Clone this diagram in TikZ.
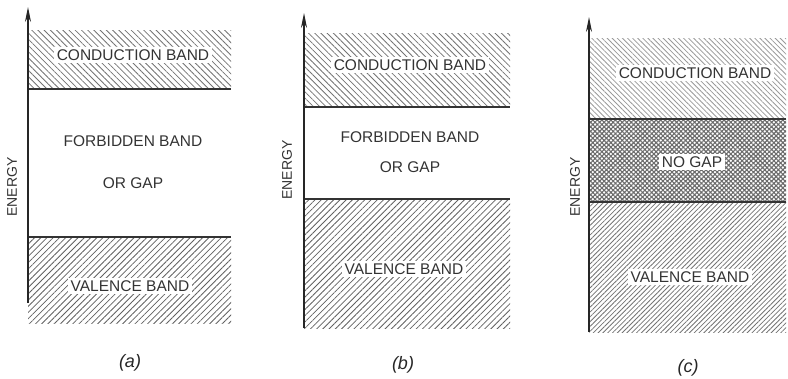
\documentclass[tikz,border=0pt]{standalone}
\usepackage{fontspec}
\setmainfont{Liberation Sans}
\usetikzlibrary{arrows.meta,patterns.meta}
\tikzset{
  band/.style={inner sep=0pt,outer sep=0pt,anchor=north west},
  upper/.style={band,pattern={Lines[angle=-45,distance=4.4pt,line width=0.8pt]},pattern color=black!55},
  lower/.style={band,pattern={Lines[angle=45,distance=4.4pt,line width=0.8pt]},pattern color=black!62},
  paleupper/.style={band,pattern={Lines[angle=-45,distance=3.6pt,line width=0.8pt]},pattern color=black!40},
  denselower/.style={band,pattern={Lines[angle=45,distance=3.4pt,line width=0.8pt]},pattern color=black!55},
  overlap/.style={band,pattern={Hatch[angle=45,distance=3.2pt,line width=1.1pt]},pattern color=black!58},
  edge/.style={line width=1.4pt,black!80},
  axis/.style={line width=1.1pt,black!85,-{Stealth[length=15pt,width=6pt]}},
  tag/.style={fill=white,inner sep=2.5pt,font=\fontsize{15.5}{15.5}\selectfont,text=black!80},
  energy/.style={rotate=90,font=\fontsize{14}{14}\selectfont,text=black!80},
  caption/.style={font=\itshape\fontsize{18}{18}\selectfont,text=black!85}
}
\begin{document}
\begin{tikzpicture}[x=1pt,y=-1pt]
\useasboundingbox (0,0) rectangle (788,378);

% (a) insulator
\node[upper,minimum width=203pt,minimum height=59pt] (cbA) at (28,30) {};
\node[lower,minimum width=203pt,minimum height=86pt] (vbA) at (28,237) {};
\draw[edge] (cbA.south west) -- (cbA.south east);
\draw[edge] (vbA.north west) -- (vbA.north east);
\coordinate (lowA) at (28,303);
\coordinate (topA) at (28,7);
\draw[axis] (lowA) -- (topA);
\node[tag] (cbtA) at (133,55) {CONDUCTION BAND};
\node[tag] (gapA1) at (133,141) {FORBIDDEN BAND};
\node[tag] (gapA2) at (133,183) {OR GAP};
\node[tag] (vbtA) at (130,286) {VALENCE BAND};
\node[energy] (enA) at (12,187) {ENERGY};
\node[caption] (capA) at (130,363) {(a)};

% (b) semiconductor
\node[upper,minimum width=206pt,minimum height=74pt] (cbB) at (304,33) {};
\node[lower,minimum width=206pt,minimum height=129pt] (vbB) at (304,199) {};
\draw[edge] (cbB.south west) -- (cbB.south east);
\draw[edge] (vbB.north west) -- (vbB.north east);
\coordinate (lowB) at (304,328);
\coordinate (topB) at (304,13);
\draw[axis] (lowB) -- (topB);
\node[tag] (cbtB) at (410,65) {CONDUCTION BAND};
\node[tag] (gapB1) at (410,137) {FORBIDDEN BAND};
\node[tag] (gapB2) at (410,167) {OR GAP};
\node[tag] (vbtB) at (404,269) {VALENCE BAND};
\node[energy] (enB) at (287,170) {ENERGY};
\node[caption] (capB) at (403,365) {(b)};

% (c) conductor
\node[paleupper,minimum width=197pt,minimum height=81pt] (cbC) at (589,38) {};
\node[overlap,minimum width=197pt,minimum height=83pt] (ngC) at (589,119) {};
\node[denselower,minimum width=197pt,minimum height=130pt] (vbC) at (589,202) {};
\draw[edge] (ngC.north west) -- (ngC.north east);
\draw[edge] (ngC.south west) -- (ngC.south east);
\coordinate (lowC) at (589,332);
\coordinate (topC) at (589,17);
\draw[axis] (lowC) -- (topC);
\node[tag] (cbtC) at (695,73) {CONDUCTION BAND};
\node[tag] (ngtC) at (692,162) {NO GAP};
\node[tag] (vbtC) at (690,277) {VALENCE BAND};
\node[energy] (enC) at (575,187) {ENERGY};
\node[caption] (capC) at (688,368) {(c)};
\end{tikzpicture}
\end{document}
